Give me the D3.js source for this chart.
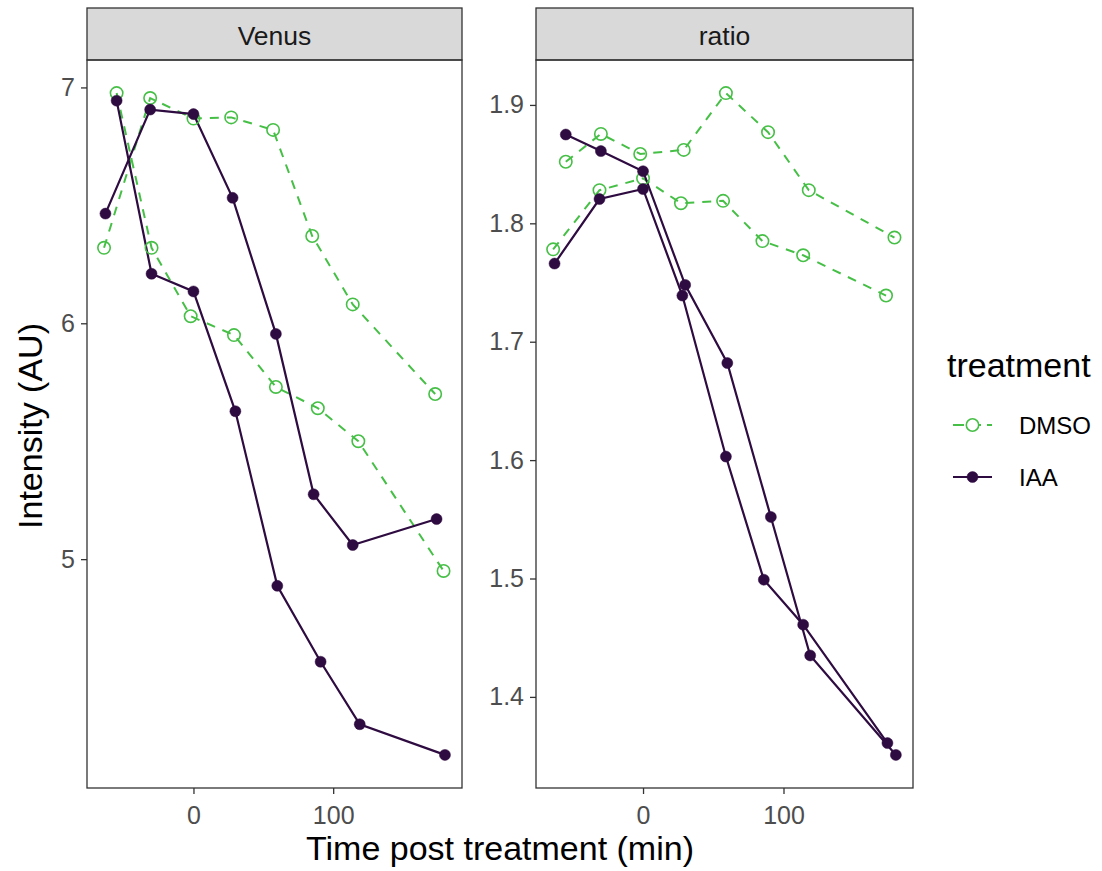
<!DOCTYPE html>
<html>
<head>
<meta charset="utf-8">
<script src="https://cdn.jsdelivr.net/npm/d3@7"></script>
<style>
  html, body { margin: 0; padding: 0; background: #ffffff; }
  svg { display: block; font-family: "Liberation Sans", Arial, Helvetica, sans-serif; }
</style>
</head>
<body>
<svg id="chart" width="1102" height="871"></svg>
<script>
// Facets and legend entries
const panels = ["Venus", "ratio"];
const treatments = ["DMSO", "IAA"];

// Sampling times (min) for each replicate
const timeDMSO1 = [-64, -31, 0, 27, 57, 85, 114, 173];
const timeDMSO2 = [-55, -30, -2, 29, 59, 89, 118, 179];
const timeIAA1  = [-63, -31, 0, 28, 59, 86, 114, 174];
const timeIAA2  = [-55, -30, 0, 30, 60, 91, 119, 180];

// Venus intensity
const venusDMSO1 = [6.32, 6.955, 6.868, 6.873, 6.82, 6.37, 6.08, 5.70];
const venusDMSO2 = [6.976, 6.32, 6.03, 5.95, 5.73, 5.64, 5.50, 4.95];
const venusIAA1  = [6.465, 6.906, 6.887, 6.532, 5.955, 5.275, 5.06, 5.17];
const venusIAA2  = [6.944, 6.21, 6.135, 5.627, 4.887, 4.565, 4.30, 4.17];

// Ratio
const ratioDMSO1 = [1.778, 1.828, 1.838, 1.817, 1.819, 1.785, 1.773, 1.739];
const ratioDMSO2 = [1.852, 1.8755, 1.8586, 1.862, 1.910, 1.877, 1.828, 1.788];
const ratioIAA1  = [1.766, 1.8205, 1.829, 1.739, 1.603, 1.499, 1.461, 1.361];
const ratioIAA2  = [1.875, 1.861, 1.844, 1.748, 1.682, 1.552, 1.435, 1.351];

// Tick values
const xTicks = [0, 100];
const venusTicks = [5, 6, 7];
const ratioTicks = [1.4, 1.5, 1.6, 1.7, 1.8, 1.9];

const colors = { DMSO: "#46bf46", IAA: "#2e0b40" };
const dash = "9,8";

function series(treatment, times, values) {
  return { treatment, points: times.map((t, i) => ({ t, v: values[i] })) };
}

const panelData = {
  Venus: [
    series("DMSO", timeDMSO1, venusDMSO1),
    series("DMSO", timeDMSO2, venusDMSO2),
    series("IAA", timeIAA1, venusIAA1),
    series("IAA", timeIAA2, venusIAA2)
  ],
  ratio: [
    series("DMSO", timeDMSO1, ratioDMSO1),
    series("DMSO", timeDMSO2, ratioDMSO2),
    series("IAA", timeIAA1, ratioIAA1),
    series("IAA", timeIAA2, ratioIAA2)
  ]
};
const panelTicks = { Venus: venusTicks, ratio: ratioTicks };

const svg = d3.select("#chart");

const layout = {
  Venus: { x0: 87, x1: 462 },
  ratio: { x0: 536, x1: 913 }
};
const stripTop = 8, stripBottom = 60, plotBottom = 788;

// Shared x domain with 5% expansion
const allTimes = [].concat(timeDMSO1, timeDMSO2, timeIAA1, timeIAA2);
const tMin = d3.min(allTimes), tMax = d3.max(allTimes);
const tPad = (tMax - tMin) * 0.05;

panels.forEach(name => {
  const L = layout[name];
  const data = panelData[name];
  const vals = data.flatMap(s => s.points.map(p => p.v));
  const vMin = d3.min(vals), vMax = d3.max(vals);
  const vPad = (vMax - vMin) * 0.05;

  const x = d3.scaleLinear().domain([tMin - tPad, tMax + tPad]).range([L.x0, L.x1]);
  const y = d3.scaleLinear().domain([vMin - vPad, vMax + vPad]).range([plotBottom, stripBottom]);

  const g = svg.append("g");

  // strip
  g.append("rect")
    .attr("x", L.x0).attr("y", stripTop)
    .attr("width", L.x1 - L.x0).attr("height", stripBottom - stripTop)
    .attr("fill", "#d9d9d9").attr("stroke", "#333333").attr("stroke-width", 1.3);
  g.append("text")
    .attr("x", (L.x0 + L.x1) / 2).attr("y", 45)
    .attr("text-anchor", "middle").attr("font-size", 26.5).attr("fill", "#1a1a1a")
    .text(name);

  // lines and points
  const line = d3.line().x(d => x(d.t)).y(d => y(d.v));
  data.forEach(s => {
    const pts = s.points.slice().sort((a, b) => a.t - b.t);
    g.append("path")
      .datum(pts)
      .attr("d", line)
      .attr("fill", "none")
      .attr("stroke", colors[s.treatment])
      .attr("stroke-width", s.treatment === "IAA" ? 2.2 : 2)
      .attr("stroke-dasharray", s.treatment === "DMSO" ? dash : null);
  });
  data.forEach(s => {
    g.selectAll(null)
      .data(s.points)
      .enter().append("circle")
      .attr("cx", d => x(d.t)).attr("cy", d => y(d.v))
      .attr("r", s.treatment === "IAA" ? 5.5 : 6.2)
      .attr("fill", s.treatment === "IAA" ? colors.IAA : "none")
      .attr("stroke", colors[s.treatment])
      .attr("stroke-width", s.treatment === "IAA" ? 0.5 : 1.6);
  });

  // panel border
  g.append("rect")
    .attr("x", L.x0).attr("y", stripBottom)
    .attr("width", L.x1 - L.x0).attr("height", plotBottom - stripBottom)
    .attr("fill", "none").attr("stroke", "#333333").attr("stroke-width", 1.3);

  // axes
  const xAxis = d3.axisBottom(x).tickValues(xTicks).tickSize(6).tickPadding(12).tickFormat(d3.format("d"));
  const ya = g.append("g").attr("transform", `translate(0,${plotBottom})`).call(xAxis);
  const yAxis = d3.axisLeft(y).tickValues(panelTicks[name]).tickSize(6).tickPadding(6)
    .tickFormat(name === "ratio" ? d3.format(".1f") : d3.format("d"));
  const yb = g.append("g").attr("transform", `translate(${L.x0},0)`).call(yAxis);
  [ya, yb].forEach(a => {
    a.select(".domain").remove();
    a.selectAll(".tick line").attr("stroke", "#333333").attr("stroke-width", 1.3);
    a.selectAll(".tick text").attr("fill", "#4d4d4d").attr("font-size", 25)
      .attr("font-family", "'Liberation Sans', Arial, sans-serif");
  });
});

// axis titles
svg.append("text")
  .attr("x", (layout.Venus.x0 + layout.ratio.x1) / 2).attr("y", 860)
  .attr("text-anchor", "middle").attr("font-size", 34).attr("fill", "#000")
  .text("Time post treatment (min)");
svg.append("text")
  .attr("transform", `translate(42,${(stripBottom + plotBottom) / 2 + 2}) rotate(-90)`)
  .attr("text-anchor", "middle").attr("font-size", 34).attr("fill", "#000")
  .text("Intensity (AU)");

// legend
const leg = svg.append("g");
leg.append("text").attr("x", 947).attr("y", 377)
  .attr("font-size", 34).attr("fill", "#000").text("treatment");
treatments.forEach((tr, i) => {
  const cy = 425 + i * 52;
  leg.append("line")
    .attr("x1", 953).attr("x2", 992).attr("y1", cy).attr("y2", cy)
    .attr("stroke", colors[tr]).attr("stroke-width", tr === "IAA" ? 2.2 : 2)
    .attr("stroke-dasharray", tr === "DMSO" ? "11,6" : null);
  leg.append("circle")
    .attr("cx", 972.5).attr("cy", cy).attr("r", tr === "IAA" ? 5.5 : 6.2)
    .attr("fill", tr === "IAA" ? colors.IAA : "#fff")
    .attr("stroke", colors[tr]).attr("stroke-width", tr === "IAA" ? 0.5 : 1.6);
  leg.append("text").attr("x", 1019).attr("y", cy + 9)
    .attr("font-size", 24).attr("fill", "#000").text(tr);
});
</script>
</body>
</html>
